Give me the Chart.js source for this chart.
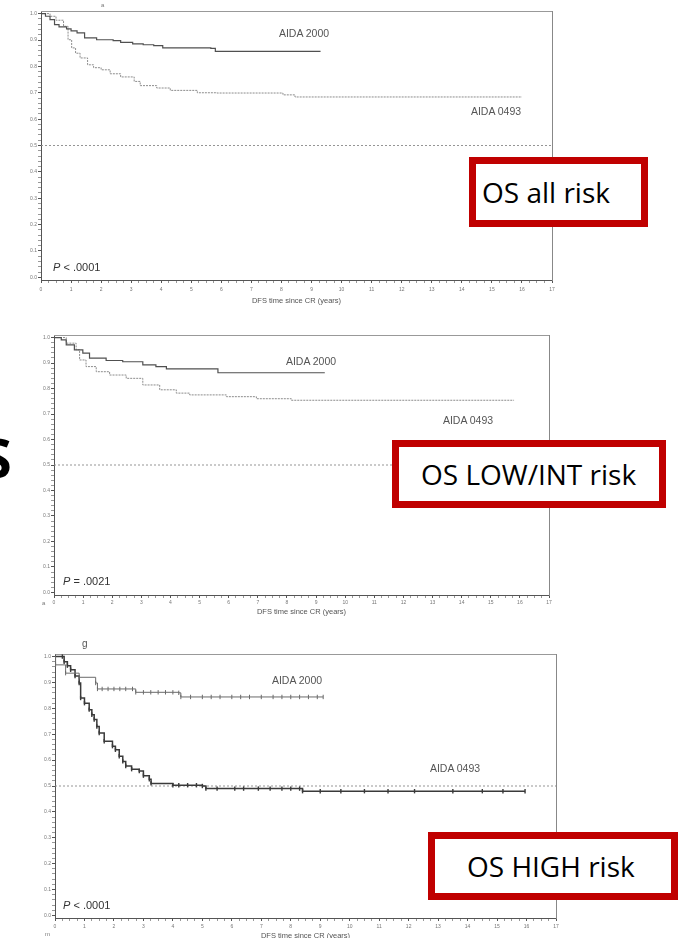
<!DOCTYPE html>
<html>
<head>
<meta charset="utf-8">
<script src="https://cdn.jsdelivr.net/npm/chart.js@4.4.1/dist/chart.umd.min.js"></script>
<style>
  html, body { margin: 0; padding: 0; background: #fff; width: 680px; height: 938px; overflow: hidden; }
  canvas { position: absolute; left: 0; }
  .lbl { position: absolute; font-family: "Liberation Sans", Arial, sans-serif; color: #555; font-size: 10.5px; white-space: nowrap; transform: translate(-50%, -50%); line-height: 1; }
  .pval { position: absolute; font-family: "Liberation Sans", Arial, sans-serif; color: #333; font-size: 11px; white-space: nowrap; transform: translateY(-50%); line-height: 1; }
  .pval i { font-style: italic; }
  .box { position: absolute; box-sizing: border-box; border: 7px solid #c00000; background: #fff; font-family: "Open Sans", sans-serif; font-size: 28px; color: #000; display: flex; align-items: center; white-space: nowrap; line-height: 1; }
  .bits { position: absolute; font-family: "Liberation Sans", Arial, sans-serif; color: #777; line-height: 1; }
  .big { position: absolute; font-family: "Open Sans", sans-serif; font-weight: 700; font-size: 54px; color: #000; line-height: 1; }
</style>
</head>
<body>
<canvas id="allRisk" width="580" height="312" style="top:0"></canvas>
<canvas id="lowRisk" width="580" height="300" style="top:320px"></canvas>
<canvas id="highRisk" width="590" height="300" style="top:640px"></canvas>

<div class="big" style="left:-18px; top:430px">S</div>

<div class="bits" style="left:101px; top:2px; font-size:6px">a</div>
<div class="bits" style="left:42px; top:600px; font-size:6px">a</div>
<div class="bits" style="left:82px; top:639px; font-size:10px; color:#555">g</div>
<div class="bits" style="left:45px; top:931px; font-size:6px">m</div>

<div class="lbl" style="left:304px; top:33px">AIDA 2000</div>
<div class="lbl" style="left:496px; top:111px">AIDA 0493</div>
<div class="pval" style="left:53px; top:267px"><i>P</i> &lt; .0001</div>

<div class="lbl" style="left:311px; top:361px">AIDA 2000</div>
<div class="lbl" style="left:468px; top:420px">AIDA 0493</div>
<div class="pval" style="left:63px; top:581px"><i>P</i> = .0021</div>

<div class="lbl" style="left:297px; top:680px">AIDA 2000</div>
<div class="lbl" style="left:455px; top:768px">AIDA 0493</div>
<div class="pval" style="left:63px; top:905px"><i>P</i> &lt; .0001</div>

<div class="box" style="left:469px; top:157px; width:179px; height:70px; padding-left:6px">OS all risk</div>
<div class="box" style="left:392px; top:440px; width:274px; height:68px; padding-left:22px">OS LOW/INT risk</div>
<div class="box" style="left:428px; top:832px; width:250px; height:68px; padding-left:32px">OS HIGH risk</div>

<script>
// x axis: years since CR, y axis: survival probability
const xMax = 17;
const yMin = -0.01;
const yMax = 1.01;
const refLevel = 0.5;
const xTitle = 'DFS time since CR (years)';

// OS all risk
const allTime2000 = [0, 0.15, 0.3, 0.45, 0.6, 0.85, 1.0, 1.2, 1.45, 1.85, 2.4, 2.65, 3.05, 3.4, 3.75, 4.05, 5.65, 5.8, 9.3];
const allSurv2000 = [1, 0.99, 0.977, 0.958, 0.95, 0.942, 0.935, 0.927, 0.908, 0.901, 0.898, 0.891, 0.885, 0.882, 0.879, 0.870, 0.868, 0.857, 0.857];
const allTime0493 = [0, 0.3, 0.5, 0.75, 0.9, 1.02, 1.15, 1.3, 1.55, 1.75, 2.0, 2.3, 2.65, 3.1, 3.3, 3.85, 4.3, 5.2, 5.85, 8.05, 8.45, 16.0];
const allSurv0493 = [1, 0.99, 0.975, 0.952, 0.901, 0.87, 0.85, 0.832, 0.806, 0.795, 0.787, 0.772, 0.76, 0.743, 0.727, 0.718, 0.709, 0.70, 0.699, 0.692, 0.684, 0.684];

// OS LOW/INT risk
const lowTime2000 = [0, 0.25, 0.42, 0.7, 0.99, 1.22, 1.79, 2.36, 3.05, 3.5, 3.86, 5.63, 9.3];
const lowSurv2000 = [1, 0.991, 0.971, 0.952, 0.939, 0.919, 0.91, 0.905, 0.893, 0.886, 0.877, 0.862, 0.862];
const lowTime0493 = [0, 0.42, 0.76, 0.88, 1.1, 1.45, 1.91, 2.48, 3.05, 3.63, 4.2, 4.66, 5.92, 6.95, 8.15, 15.8];
const lowSurv0493 = [1, 0.978, 0.952, 0.912, 0.886, 0.866, 0.853, 0.84, 0.814, 0.795, 0.782, 0.775, 0.768, 0.76, 0.754, 0.754];

// OS HIGH risk (repeated values are censored patients)
const highTime2000 = [0, 0.02, 0.36, 0.82, 1.38, 1.44, 1.6, 1.8, 2.0, 2.2, 2.4, 2.63, 2.74, 3.0, 3.25, 3.5, 3.75, 4.0, 4.2, 4.27, 4.6, 5.0, 5.3, 5.6, 6.0, 6.3, 6.6, 7.0, 7.4, 7.7, 8.0, 8.3, 8.6, 8.9, 9.1];
const highSurv2000 = [1, 0.968, 0.936, 0.92, 0.898, 0.875, 0.875, 0.875, 0.875, 0.875, 0.875, 0.875, 0.862, 0.862, 0.862, 0.862, 0.862, 0.862, 0.86, 0.844, 0.844, 0.844, 0.844, 0.844, 0.844, 0.844, 0.844, 0.844, 0.844, 0.844, 0.844, 0.844, 0.844, 0.844, 0.844];
const highTime0493 = [0, 0.25, 0.31, 0.42, 0.53, 0.68, 0.82, 0.87, 1.0, 1.16, 1.25, 1.33, 1.42, 1.5, 1.67, 1.95, 2.05, 2.18, 2.3, 2.4, 2.6, 2.86, 3.0, 3.2, 3.26, 4.0, 4.2, 4.5, 4.8, 5.0, 5.12, 5.5, 6.1, 6.4, 6.9, 7.3, 7.7, 8.0, 8.3, 8.4, 9.0, 9.7, 10.5, 11.3, 12.2, 13.5, 14.5, 15.2, 15.95];
const highSurv0493 = [1, 1, 0.98, 0.965, 0.949, 0.925, 0.898, 0.84, 0.82, 0.795, 0.775, 0.757, 0.73, 0.705, 0.673, 0.654, 0.64, 0.615, 0.595, 0.577, 0.565, 0.558, 0.54, 0.526, 0.51, 0.503, 0.503, 0.503, 0.503, 0.50, 0.49, 0.49, 0.49, 0.49, 0.49, 0.49, 0.49, 0.49, 0.49, 0.48, 0.48, 0.48, 0.48, 0.48, 0.48, 0.48, 0.48, 0.48, 0.48];

const FONT = '"Liberation Sans", Arial, sans-serif';

function kmPoints(t, s) {
    return t.map((x, i) => ({ x: x, y: s[i] }));
}

function buildPanel(id, lay, d2000, d0493, look) {
    const ctx = document.getElementById(id);
    return new Chart(ctx, {
        type: 'line',
        data: {
            datasets: [
                {
                    label: 'AIDA 2000',
                    data: d2000,
                    stepped: 'before',
                    borderColor: look.c2000,
                    borderWidth: look.w2000,
                    pointRadius: look.marks ? 2.2 : 0,
                    pointStyle: 'line',
                    pointRotation: 90,
                    pointBorderColor: look.c2000,
                    pointBorderWidth: 1
                },
                {
                    label: 'AIDA 0493',
                    data: d0493,
                    stepped: 'before',
                    borderColor: look.c0493,
                    borderWidth: look.w0493,
                    borderDash: look.dash0493,
                    pointRadius: look.marks ? 2.2 : 0,
                    pointStyle: 'line',
                    pointRotation: 90,
                    pointBorderColor: look.c0493,
                    pointBorderWidth: 1.4
                },
                {
                    label: 'median',
                    data: [{ x: 0, y: refLevel }, { x: xMax, y: refLevel }],
                    borderColor: '#8a8a8a',
                    borderWidth: 0.9,
                    borderDash: [2, 2],
                    pointRadius: 0
                }
            ]
        },
        options: {
            responsive: false,
            animation: false,
            events: [],
            layout: { padding: { top: lay.padTop, right: lay.padRight, left: 0, bottom: 0 } },
            plugins: {
                legend: { display: false },
                tooltip: { enabled: false }
            },
            scales: {
                x: {
                    type: 'linear',
                    position: 'bottom',
                    min: 0,
                    max: xMax,
                    afterBuildTicks: (s) => {
                        const list = [];
                        for (let i = 0; i <= xMax * 4; i++) list.push({ value: i / 4 });
                        s.ticks = list;
                    },
                    afterFit: (s) => { s.height = lay.xHeight; },
                    ticks: {
                        autoSkip: false,
                        maxRotation: 0,
                        padding: lay.tickPad,
                        color: '#777',
                        font: { family: FONT, size: 5 },
                        callback: (v, i) => (i % 4 === 0 ? String(i / 4) : '')
                    },
                    grid: {
                        drawOnChartArea: false,
                        tickLength: 3,
                        tickColor: (c) => (c.index % 4 === 0 ? '#555' : '#999')
                    },
                    border: { color: '#555', width: 1 },
                    title: {
                        display: true,
                        text: xTitle,
                        color: '#555',
                        font: { family: FONT, size: 7.5 },
                        padding: { top: 0, bottom: lay.titlePad }
                    }
                },
                y: {
                    type: 'linear',
                    position: 'left',
                    min: yMin,
                    max: yMax,
                    afterBuildTicks: (s) => {
                        const list = [];
                        for (let i = 0; i <= 50; i++) list.push({ value: i / 50 });
                        s.ticks = list;
                    },
                    afterFit: (s) => { s.width = lay.yWidth; },
                    ticks: {
                        autoSkip: false,
                        padding: 1,
                        color: '#777',
                        font: { family: FONT, size: 5 },
                        callback: (v, i) => (i % 5 === 0 ? (i / 50).toFixed(1) : '')
                    },
                    grid: {
                        drawOnChartArea: false,
                        tickLength: 3,
                        tickColor: (c) => (c.index % 5 === 0 ? '#555' : '#999')
                    },
                    border: { color: '#555', width: 1 }
                },
                xTop: {
                    type: 'linear',
                    position: 'top',
                    ticks: { display: false },
                    grid: { display: false },
                    border: { color: '#999', width: 1 },
                    afterFit: (s) => { s.height = 0; }
                },
                yRight: {
                    type: 'linear',
                    position: 'right',
                    ticks: { display: false },
                    grid: { display: false },
                    border: { color: '#888', width: 1 },
                    afterFit: (s) => { s.width = 0; }
                }
            }
        }
    });
}

buildPanel('allRisk',
    { padTop: 11, padRight: 28, yWidth: 41, xHeight: 32, tickPad: 3.5, titlePad: 6.5 },
    kmPoints(allTime2000, allSurv2000), kmPoints(allTime0493, allSurv0493),
    { c2000: '#505050', w2000: 1.2, c0493: '#8c8c8c', w0493: 1, dash0493: [2, 1], marks: false });

buildPanel('lowRisk',
    { padTop: 15, padRight: 31, yWidth: 54, xHeight: 25, tickPad: 2, titlePad: 4 },
    kmPoints(lowTime2000, lowSurv2000), kmPoints(lowTime0493, lowSurv0493),
    { c2000: '#505050', w2000: 1.2, c0493: '#8c8c8c', w0493: 1, dash0493: [2, 1], marks: false });

buildPanel('highRisk',
    { padTop: 14, padRight: 34, yWidth: 55, xHeight: 22, tickPad: 3, titlePad: 0 },
    kmPoints(highTime2000, highSurv2000), kmPoints(highTime0493, highSurv0493),
    { c2000: '#6a6a6a', w2000: 1, c0493: '#3a3a3a', w0493: 1.5, dash0493: [], marks: true });
</script>
</body>
</html>
